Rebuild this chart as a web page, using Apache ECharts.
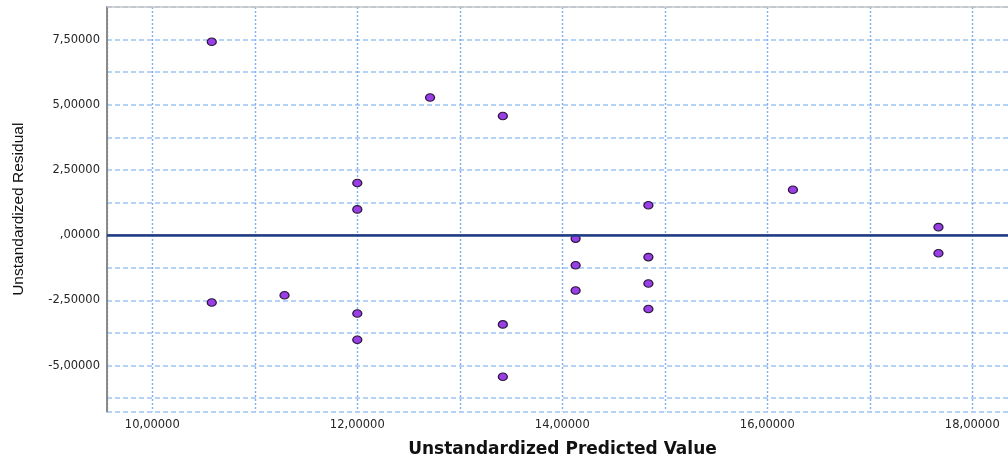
<!DOCTYPE html>
<html>
<head>
<meta charset="utf-8">
<title>Residual plot</title>
<script src="https://cdn.jsdelivr.net/npm/echarts@6/dist/echarts.min.js"></script>
<style>
  html, body { margin: 0; padding: 0; background: #ffffff; overflow: hidden; }
  #chart { width: 1008px; height: 466px; }
</style>
</head>
<body>
<div id="chart"></div>
<script>
// Predicted values (x) and residuals (y), one entry per case
const predicted = [
  10.58, 10.58, 11.29, 12.00, 12.00, 12.00, 12.00,
  12.71, 13.42, 13.42, 13.42, 14.13, 14.13, 14.13,
  14.84, 14.84, 14.84, 14.84, 16.25, 17.67, 17.67
];
const residual = [
  7.42, -2.58, -2.30, 2.00, 0.99, -3.00, -4.01,
  5.28, 4.57, -3.42, -5.43, -0.13, -1.15, -2.12,
  1.15, -0.84, -1.85, -2.83, 1.74, 0.31, -0.69
];

// Labelled tick values on each axis
const xTickLabels = [10, 12, 14, 16, 18];
const yTickLabels = [-5, -2.5, 0, 2.5, 5, 7.5];

// Axis ranges and grid steps
const xMin = 9.558, xMax = 18.446, xStep = 1;
const yMin = -6.76, yMax = 8.75, yStep = 1.25;

const xAxisTitle = 'Unstandardized Predicted Value';
const yAxisTitle = 'Unstandardized Residual';

function fmt(v) {
  // comma decimal, five places, no leading zero for |v| < 1
  let s = Math.abs(v).toFixed(5).replace('.', ',');
  if (s.startsWith('0,')) s = s.slice(1);
  return (v < 0 ? '-' : '') + s;
}
function labelIf(list) {
  return function (v) {
    for (const t of list) if (Math.abs(v - t) < 1e-6) return fmt(t);
    return '';
  };
}

const points = predicted.map((x, i) => [x, residual[i]]);

const axisGray = { color: '#8a8a8a', width: 2 };
const labelFont = { fontFamily: 'DejaVu Sans', fontSize: 11.5, color: '#262626' };

const chart = echarts.init(document.getElementById('chart'), null, { renderer: 'canvas' });
chart.setOption({
  animation: false,
  backgroundColor: '#ffffff',
  // plot area runs past the right edge of the canvas
  grid: {
    left: 107, width: 911, top: 7, bottom: 54.5,
    containLabel: false,
    outerBoundsMode: 'none'
  },
  xAxis: {
    type: 'value',
    min: xMin,
    max: xMax,
    minInterval: xStep,
    maxInterval: xStep,
    splitNumber: 9,
    axisLine: { show: true, lineStyle: axisGray },
    axisTick: { show: false },
    axisLabel: Object.assign({ margin: 8, formatter: labelIf(xTickLabels) }, labelFont),
    splitLine: { show: true, lineStyle: { color: '#7eaff0', width: 1.4, type: [2, 2] } },
    name: xAxisTitle,
    nameLocation: 'middle',
    nameGap: 30,
    nameTextStyle: { fontFamily: 'DejaVu Sans', fontWeight: 'bold', fontSize: 17, color: '#111' }
  },
  yAxis: {
    type: 'value',
    min: yMin,
    max: yMax,
    minInterval: yStep,
    maxInterval: yStep,
    splitNumber: 12,
    axisLine: { show: true, lineStyle: axisGray },
    axisTick: { show: false },
    axisLabel: Object.assign({ margin: 7, formatter: labelIf(yTickLabels) }, labelFont),
    splitLine: { show: true, lineStyle: { color: '#9ec4f4', width: 1.5, type: [5, 3] } },
    name: yAxisTitle,
    nameLocation: 'middle',
    nameRotate: 90,
    nameGap: 80,
    nameTextStyle: { fontFamily: 'Liberation Sans', fontSize: 15.5, color: '#111' }
  },
  series: [{
    type: 'scatter',
    data: points,
    symbol: 'circle',
    symbolSize: [9, 7.5],
    itemStyle: { color: '#9a3ee6', borderColor: '#2b1840', borderWidth: 1.2, opacity: 1 },
    markLine: {
      silent: true,
      symbol: 'none',
      label: { show: false },
      lineStyle: { color: '#1f3c88', width: 2.5, type: 'solid' },
      data: [
        { yAxis: 0 },
        { yAxis: yMax, lineStyle: { color: '#c4c4c4', width: 1.5, type: 'solid' } }
      ]
    },
    z: 3
  }]
});
</script>
</body>
</html>
